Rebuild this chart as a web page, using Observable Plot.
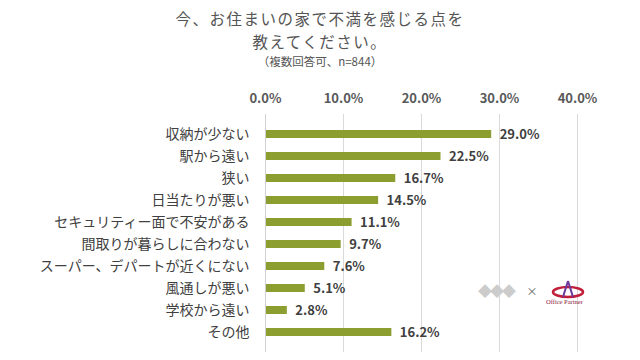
<!DOCTYPE html>
<html>
<head>
<meta charset="utf-8">
<script src="https://cdn.jsdelivr.net/npm/d3@7"></script>
<script src="https://cdn.jsdelivr.net/npm/@observablehq/plot@0.6"></script>
<style>
  body { margin: 0; background: #fff; font-family: "Noto Sans CJK JP", "Noto Sans", sans-serif; }
  #wrap { position: relative; width: 640px; height: 360px; overflow: hidden; }
  .title { position: absolute; left: 0; width: 640px; text-align: center; color: #555; font-size: 15.5px; line-height: 20px; letter-spacing: 1.5px; }
  #t1 { top: 8px; }
  #t2 { top: 31px; }
  #sub { position: absolute; left: 0; top: 54px; width: 640px; text-align: center; color: #555; font-size: 11.5px; line-height: 14px; }
  #chart { position: absolute; left: 0; top: 70px; }
  #logo { position: absolute; left: 478px; top: 280px; color: #666; font-size: 11px; }
  #logo2 { position: absolute; left: 546px; top: 298px; color: #8a1a3a; font-size: 6.5px; font-family: "Liberation Serif", serif; }
  #logo3 { position: absolute; left: 550px; top: 280px; }
</style>
</head>
<body>
<div id="wrap">
  <div class="title" id="t1">今、お住まいの家で不満を感じる点を</div>
  <div class="title" id="t2">教えてください。</div>
  <div id="sub">（複数回答可、n=844）</div>
  <div id="chart"></div>
  <div id="logo"><span style="color:#ccc;font-size:14px;letter-spacing:-2px">◆◆◆</span> <span style="margin-left:10px">×</span></div>
  <svg id="logo3" width="36" height="20"><ellipse cx="18" cy="12" rx="15" ry="5" fill="none" stroke="#c0203a" stroke-width="2.5"/><path d="M18 1 L13 17 M18 1 L23 17" stroke="#6a3a9a" stroke-width="2" fill="none"/></svg>
  <div id="logo2">Office Partner</div>
</div>
<script>
const categories = ["収納が少ない", "駅から遠い", "狭い", "日当たりが悪い", "セキュリティー面で不安がある", "間取りが暮らしに合わない", "スーパー、デパートが近くにない", "風通しが悪い", "学校から遠い", "その他"];
const values = [29.0, 22.5, 16.7, 14.5, 11.1, 9.7, 7.6, 5.1, 2.8, 16.2];
const xTicks = [0, 10, 20, 30, 40];

const data = categories.map((c, i) => ({category: c, value: values[i]}));

const chart = Plot.plot({
  width: 640,
  height: 290,
  marginTop: 44,
  marginBottom: 8,
  marginLeft: 265,
  marginRight: 63,
  style: {fontFamily: '"Noto Sans CJK JP", sans-serif', background: "transparent"},
  x: {domain: [0, 40], label: null},
  y: {domain: categories, padding: 0.65, label: null},
  marks: [
    Plot.gridX(xTicks.slice(1), {stroke: "#d9d9d9", strokeOpacity: 1}),
    Plot.ruleX([0], {stroke: "#d0d0d0"}),
    Plot.axisX(xTicks, {anchor: "top", tickSize: 0, tickPadding: 12, tickFormat: d => d.toFixed(1) + "%", fontSize: 13, fontWeight: "bold", fill: "#595959", label: null}),
    Plot.axisY({tickSize: 0, tickPadding: 16, fontSize: 14, fill: "#404040", label: null}),
    Plot.barX(data, {x: "value", y: "category", fill: "#8c9e2f", insetLeft: 1}),
    Plot.text(data, {x: "value", y: "category", text: d => d.value.toFixed(1) + "%", textAnchor: "start", dx: 8, fontSize: 13, fontWeight: "bold", fill: "#404040"})
  ]
});
document.getElementById("chart").appendChild(chart);
</script>
</body>
</html>
